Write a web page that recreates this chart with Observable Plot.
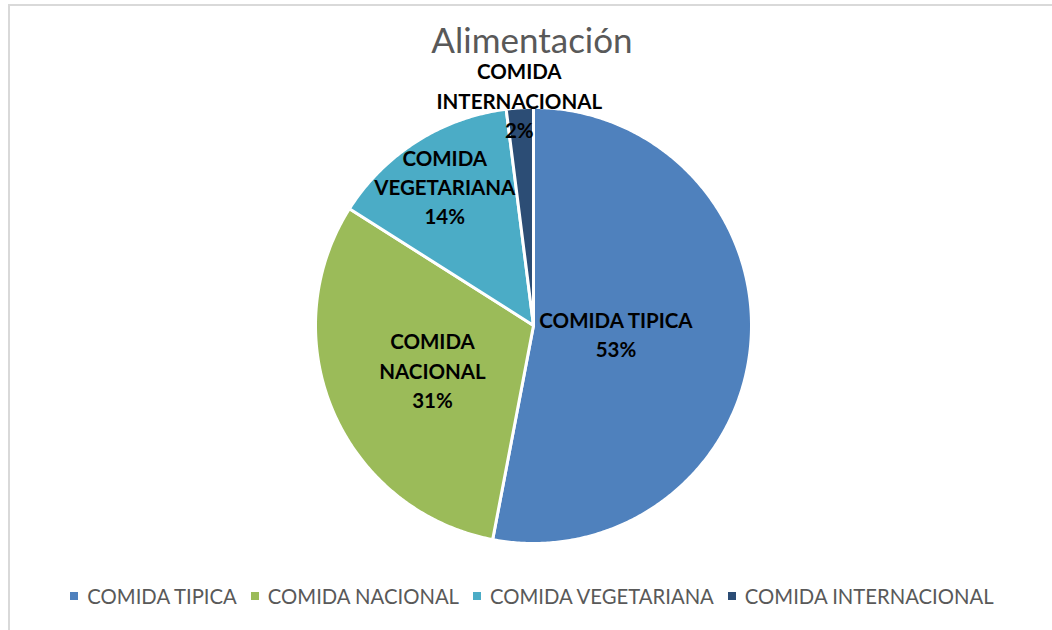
<!DOCTYPE html>
<html><head><meta charset="utf-8">
<script src="https://cdn.jsdelivr.net/npm/d3@7"></script>
<script src="https://cdn.jsdelivr.net/npm/@observablehq/plot@0.6"></script>
<style>
body{margin:0;background:#fff;font-family:Lato, "Open Sans", sans-serif;}
#wrap{position:relative;width:1052px;height:630px;overflow:hidden;background:#fff;}
#frame{position:absolute;left:8px;top:4px;width:1100px;height:700px;border-left:2px solid #d9d9d9;border-top:2px solid #d9d9d9;}
#chart{position:absolute;left:0;top:0;}
#title{position:absolute;top:23px;left:0;width:1064px;text-align:center;font-size:35px;color:#595959;line-height:32px;}
#legend{position:absolute;top:582px;left:0;width:1078px;display:flex;justify-content:center;font-size:20.3px;color:#595959;line-height:28px;}
.item{display:flex;align-items:center;margin-right:14px;}
.sw{width:8px;height:8px;margin-right:9px;}
</style></head>
<body>
<div id="wrap">
<div id="frame"></div>
<div id="chart"></div>
<div id="title">Alimentación</div>
<div id="legend"></div>
</div>
<script>
const categories = ["COMIDA TIPICA", "COMIDA NACIONAL", "COMIDA VEGETARIANA", "COMIDA INTERNACIONAL"];
const labelLines = ["COMIDA TIPICA", "COMIDA\nNACIONAL", "COMIDA\nVEGETARIANA", "COMIDA\nINTERNACIONAL"];
const percents = [53, 31, 14, 2];
const colors = ["#4F81BD", "#9BBB59", "#4BACC6", "#2C4D75"];
// label placement (fraction of radius), layout only
const labelRadius = [0.38, 0.505, 0.76, 1.04];

const total = d3.sum(percents);
let cum = 0;
const slices = categories.map((c, i) => {
  const a0 = cum / total * 2 * Math.PI;
  cum += percents[i];
  const a1 = cum / total * 2 * Math.PI;
  return {cat: c, i, a0, a1};
});
const pts = [];
for (const s of slices) {
  pts.push({cat: s.cat, x: 0, y: 0});
  const n = Math.max(2, Math.ceil((s.a1 - s.a0) / (Math.PI / 360)));
  for (let k = 0; k <= n; k++) {
    const a = s.a0 + (s.a1 - s.a0) * k / n;
    pts.push({cat: s.cat, x: Math.sin(a), y: Math.cos(a)});
  }
}
const labels = slices.map(s => {
  const m = (s.a0 + s.a1) / 2, r = labelRadius[s.i];
  return {x: Math.sin(m) * r, y: Math.cos(m) * r, text: labelLines[s.i] + "\n" + percents[s.i] + "%"};
});

const cx = 533, cy = 325, R = 218;
const plot = Plot.plot({
  width: 1052, height: 630, margin: 0,
  x: {domain: [-1, 1], range: [cx - R, cx + R], axis: null},
  y: {domain: [-1, 1], range: [cy + R, cy - R], axis: null},
  color: {domain: categories, range: colors},
  style: {background: "transparent"},
  marks: [
    Plot.line(pts, {x: "x", y: "y", z: "cat", fill: "cat", stroke: "white", strokeWidth: 3, curve: "linear-closed", strokeLinejoin: "round"}),
    Plot.text(labels, {x: "x", y: "y", text: "text", fontSize: 20.5, fontWeight: "bold", lineHeight: 1.42, fill: "black", fontFamily: "Lato"})
  ]
});
document.getElementById("chart").appendChild(plot);

const leg = document.getElementById("legend");
categories.forEach((c, i) => {
  const it = document.createElement("div"); it.className = "item";
  const sw = document.createElement("div"); sw.className = "sw"; sw.style.background = colors[i];
  const t = document.createElement("span"); t.textContent = c;
  it.appendChild(sw); it.appendChild(t); leg.appendChild(it);
});
</script>
</body></html>
